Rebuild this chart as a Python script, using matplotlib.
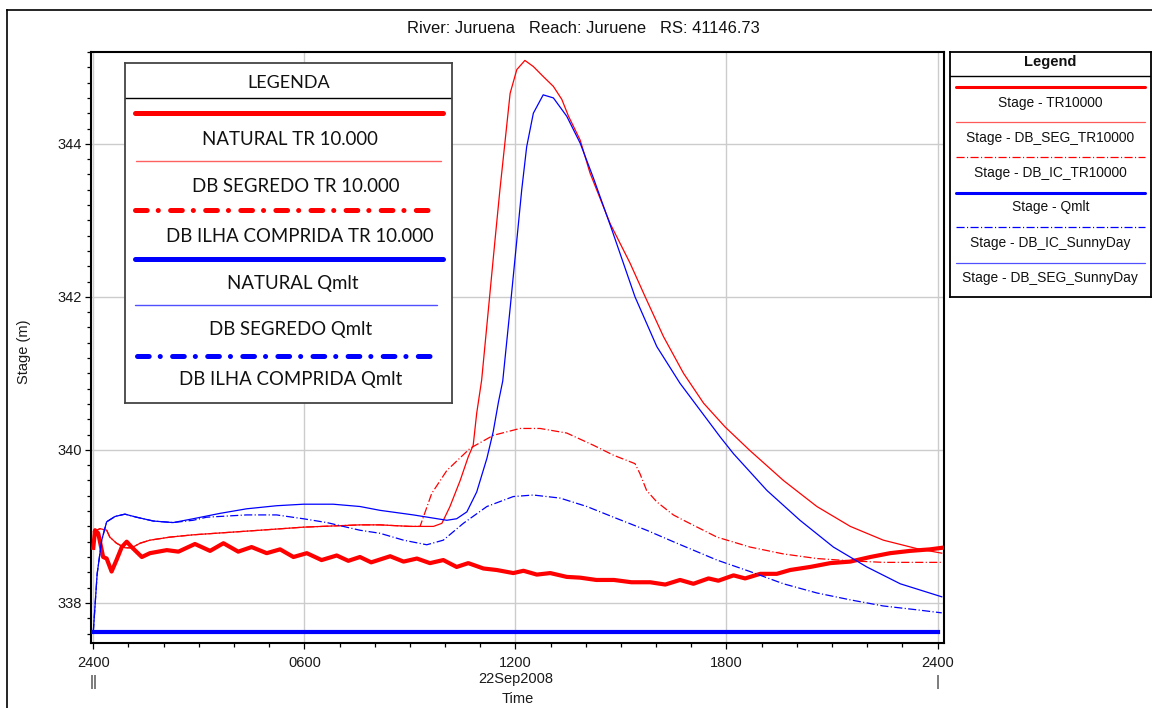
import matplotlib
matplotlib.use('Agg')
import matplotlib.pyplot as plt
from matplotlib.ticker import MultipleLocator, FixedLocator, FixedFormatter
from matplotlib.lines import Line2D

# ---------------- data (hours since 2400 of 21Sep2008, stage in m) ----------------
tr_nat_t = [0, 0.05, 0.14, 0.28, 0.38, 0.52, 0.66, 0.81, 0.95, 1.09, 1.38, 1.61, 2.09, 2.42, 2.89,
            3.32, 3.70, 4.12, 4.50, 4.93, 5.31, 5.69, 6.07, 6.49, 6.92, 7.25, 7.58, 7.9, 8.44, 8.82,
            9.2, 9.57, 9.95, 10.33, 10.66, 11.09, 11.47, 11.94, 12.23, 12.61, 12.99, 13.46, 13.84,
            14.3, 14.8, 15.3, 15.83, 16.26, 16.68, 17.06, 17.49, 17.77, 18.2, 18.53, 18.96, 19.43,
            19.81, 20.38, 20.95, 21.52, 22.09, 22.65, 23.22, 23.79, 24.12]
tr_nat_v = [338.72, 338.95, 338.91, 338.60, 338.58, 338.41, 338.56, 338.73, 338.80, 338.73, 338.60,
            338.65, 338.69, 338.67, 338.77, 338.68, 338.78, 338.67, 338.73, 338.65, 338.70, 338.60,
            338.65, 338.56, 338.62, 338.55, 338.60, 338.53, 338.61, 338.54, 338.58, 338.52, 338.56,
            338.47, 338.52, 338.45, 338.43, 338.39, 338.42, 338.37, 338.39, 338.34, 338.33, 338.30,
            338.30, 338.27, 338.27, 338.24, 338.30, 338.25, 338.32, 338.29, 338.36, 338.32, 338.38,
            338.38, 338.43, 338.47, 338.52, 338.54, 338.60, 338.65, 338.68, 338.70, 338.72]

seg_tr_t = [0, 0.19, 0.38, 0.47, 0.66, 0.90, 1.09, 1.33, 1.61, 2.18, 2.84, 3.79, 4.74, 5.97, 7.58,
            8.15, 9.0, 9.67, 9.91, 10.14, 10.43, 10.66, 10.8, 10.9, 11.04, 11.42, 11.56, 11.71, 11.85,
            12.04, 12.27, 12.51, 12.79, 13.08, 13.32, 13.51, 13.84, 14.12, 14.69, 15.26, 15.69, 16.21,
            16.78, 17.35, 17.96, 18.67, 19.62, 20.57, 21.52, 22.46, 23.41, 24.12]
seg_tr_v = [338.93, 338.97, 338.95, 338.86, 338.78, 338.72, 338.72, 338.78, 338.82, 338.86, 338.89,
            338.92, 338.95, 338.99, 339.02, 339.02, 339.00, 339.00, 339.04, 339.26, 339.60, 339.91,
            340.06, 340.48, 340.91, 342.74, 343.40, 344.05, 344.66, 344.97, 345.09, 345.01, 344.88,
            344.75, 344.58, 344.36, 344.05, 343.62, 342.96, 342.44, 342.00, 341.48, 341.00, 340.61,
            340.30, 339.99, 339.60, 339.26, 339.00, 338.82, 338.71, 338.65]

ic_tr_t = [0, 0.19, 0.38, 0.47, 0.66, 0.90, 1.09, 1.33, 1.61, 2.18, 2.84, 3.79, 4.74, 5.97, 7.58,
           8.15, 9.0, 9.29, 9.62, 10.05, 10.71, 11.37, 12.13, 12.70, 13.46, 14.22, 14.79, 15.4, 15.54,
           15.73, 16.02, 16.49, 16.78, 17.73, 18.67, 19.62, 20.57, 21.52, 22.46, 24.12]
ic_tr_v = [338.93, 338.97, 338.95, 338.86, 338.78, 338.72, 338.72, 338.78, 338.82, 338.86, 338.89,
           338.92, 338.95, 338.99, 339.02, 339.02, 339.00, 339.00, 339.43, 339.73, 340.02, 340.19,
           340.28, 340.28, 340.22, 340.06, 339.93, 339.82, 339.69, 339.47, 339.32, 339.15, 339.08,
           338.86, 338.73, 338.64, 338.58, 338.55, 338.53, 338.53]

qmlt_t = [0, 24.0]
qmlt_v = [337.62, 337.62]

ic_sun_t = [0, 0.11, 0.24, 0.38, 0.62, 0.9, 1.23, 1.71, 2.27, 2.84, 3.22, 4.36, 5.21, 5.97, 6.64,
            7.2, 7.58, 8.15, 8.82, 9.48, 9.95, 10.52, 11.19, 11.94, 12.51, 13.27, 14.03, 14.79, 15.73,
            16.59, 17.73, 18.67, 19.62, 20.57, 21.52, 22.46, 23.41, 24.12]
ic_sun_v = [337.62, 338.38, 338.82, 339.06, 339.13, 339.16, 339.12, 339.07, 339.05, 339.08, 339.12,
            339.15, 339.15, 339.10, 339.05, 338.99, 338.95, 338.91, 338.82, 338.76, 338.82, 339.04,
            339.26, 339.39, 339.41, 339.37, 339.26, 339.12, 338.95, 338.78, 338.56, 338.41, 338.25,
            338.13, 338.04, 337.96, 337.91, 337.87]

seg_sun_t = [0, 0.11, 0.24, 0.38, 0.62, 0.9, 1.23, 1.71, 2.27, 2.84, 3.6, 4.36, 5.21, 5.97, 6.82,
             7.58, 8.15, 9.1, 10.05, 10.33, 10.62, 10.9, 11.19, 11.37, 11.52, 11.64, 11.85, 12.04,
             12.18, 12.32, 12.51, 12.79, 13.08, 13.46, 13.84, 14.22, 14.74, 15.4, 16.02, 16.68, 17.25,
             17.82, 18.2, 19.15, 20.09, 21.04, 21.99, 22.94, 24.12]
seg_sun_v = [337.62, 338.38, 338.82, 339.06, 339.13, 339.16, 339.12, 339.07, 339.05, 339.10, 339.17,
             339.23, 339.27, 339.29, 339.29, 339.26, 339.21, 339.15, 339.08, 339.10, 339.19, 339.45,
             339.89, 340.24, 340.63, 340.90, 341.85, 342.74, 343.40, 343.96, 344.40, 344.64, 344.60,
             344.36, 344.01, 343.55, 342.88, 342.00, 341.35, 340.87, 340.52, 340.17, 339.95, 339.47,
             339.08, 338.73, 338.47, 338.25, 338.08]

x_ticks = [0, 6, 12, 18, 24]
x_tick_labels = ['2400', '0600', '1200\n22Sep2008', '1800', '2400']
y_ticks = [338, 340, 342, 344]
y_tick_labels = ['338', '340', '342', '344']

title = 'River: Juruena   Reach: Juruene   RS: 41146.73'
x_label = 'Time'
y_label = 'Stage (m)'

left_legend_title = 'LEGENDA'
left_legend_labels = ['NATURAL TR 10.000', 'DB SEGREDO TR 10.000', 'DB ILHA COMPRIDA TR 10.000',
                      'NATURAL Qmlt', 'DB SEGREDO Qmlt', 'DB ILHA COMPRIDA Qmlt']
right_legend_title = 'Legend'
right_legend_labels = ['Stage - TR10000', 'Stage - DB_SEG_TR10000', 'Stage - DB_IC_TR10000',
                       'Stage - Qmlt', 'Stage - DB_IC_SunnyDay', 'Stage - DB_SEG_SunnyDay']

# ---------------- styling ----------------
W, H, DPI = 1152, 708, 100
SANS = ['Liberation Sans', 'DejaVu Sans']
CAL = ['Lato', 'DejaVu Sans']
RED, BLUE = '#ff0000', '#0000ff'
DD_THIN = (0, (6.5, 1.9, 0.9, 1.9))
TXT = '#1a1a1a'

plt.rcParams['font.family'] = SANS

fig = plt.figure(figsize=(W / DPI, H / DPI), dpi=DPI, facecolor='white')


def fx(px):
    return px / W


def fy(py):
    return 1 - py / H


AX_L, AX_R, AX_T, AX_B = 91, 943.5, 52, 642.7
ax = fig.add_axes([fx(AX_L), fy(AX_B), fx(AX_R - AX_L), (AX_B - AX_T) / H])
ax.set_xlim(-0.065, 24.17)
ax.set_ylim(337.48, 345.20)

# grid
ax.grid(True, which='major', color='#cccccc', linewidth=1.0, zorder=0)
ax.set_axisbelow(True)

# series
ax.plot(tr_nat_t, tr_nat_v, color=RED, lw=3.0, solid_joinstyle='round', zorder=3)
ax.plot(qmlt_t, qmlt_v, color=BLUE, lw=3.0, zorder=3)
ax.plot(seg_tr_t, seg_tr_v, color=RED, lw=0.9, zorder=4)
ax.plot(ic_tr_t, ic_tr_v, color=RED, lw=0.9, linestyle=DD_THIN, zorder=4)
ax.plot(ic_sun_t, ic_sun_v, color=BLUE, lw=0.9, linestyle=DD_THIN, zorder=4)
ax.plot(seg_sun_t, seg_sun_v, color=BLUE, lw=0.9, zorder=4)

# ticks
ax.xaxis.set_major_locator(FixedLocator(x_ticks))
ax.xaxis.set_major_formatter(FixedFormatter(x_tick_labels))
ax.xaxis.set_minor_locator(MultipleLocator(1))
ax.yaxis.set_major_locator(FixedLocator(y_ticks))
ax.yaxis.set_major_formatter(FixedFormatter(y_tick_labels))
ax.yaxis.set_minor_locator(MultipleLocator(0.2))
ax.tick_params(which='major', direction='out', length=4.5, width=0.9, color='black',
               labelsize=10.5, labelcolor=TXT)
ax.tick_params(which='minor', direction='out', length=2.6, width=0.9, color='black')
ax.tick_params(axis='y', which='major', pad=1.8)
ax.tick_params(axis='x', which='major', pad=5.0)
for lbl in ax.get_xticklabels():
    lbl.set_linespacing(1.2)
for s in ax.spines.values():
    s.set_linewidth(1.5)
    s.set_color('black')

ax.set_xlabel(x_label, fontsize=10.5, labelpad=4.5, color=TXT)
ax.set_ylabel(y_label, fontsize=10.5, color=TXT)
ax.yaxis.set_label_coords((31 - AX_L) / (AX_R - AX_L), 0.5 - 4.5 / (AX_B - AX_T))

# day separators under the end ticks
ax.text(0, -0.054, '||', transform=ax.get_xaxis_transform(), ha='center', va='top',
        fontsize=11, color='#333333')
ax.text(24, -0.054, '|', transform=ax.get_xaxis_transform(), ha='center', va='top',
        fontsize=11, color='#333333')

# title
fig.text(fx(583), fy(28.3), title, ha='center', va='center', fontsize=11.9, color='#111111')

# outer frame (left and top edge)
fig.add_artist(Line2D([fx(7), fx(7)], [fy(10), 0], color='black', lw=1.2))
fig.add_artist(Line2D([fx(7), 1], [fy(10), fy(10)], color='black', lw=1.2))


def box(x0, y0, x1, y1, edge, lw):
    b = fig.add_axes([fx(x0), fy(y1), fx(x1 - x0), (y1 - y0) / H])
    b.set_xlim(0, x1 - x0)
    b.set_ylim(y1 - y0, 0)
    b.set_xticks([])
    b.set_yticks([])
    b.set_facecolor('white')
    for s in b.spines.values():
        s.set_linewidth(lw)
        s.set_color(edge)
    b.set_zorder(10)
    return b


# ---- left "LEGENDA" panel ----
lb = box(125, 63.3, 451.7, 403.3, '#444444', 1.3)
lb.text(163.3, 20, left_legend_title, ha='center', va='center', fontsize=13, family=CAL,
        color='#111111')
lb.plot([0, 326.7], [35, 35], color='black', lw=1.0)
DD_BIG = (0, (2.34, 2.2, 0.02, 2.46))
left_styles = [
    dict(color=RED, lw=3.6, ls='-', x=(10, 317.7)),
    dict(color='#ff6060', lw=1.0, ls='-', x=(11, 315.7)),
    dict(color=RED, lw=3.6, ls=DD_BIG, x=(10, 309)),
    dict(color=BLUE, lw=3.6, ls='-', x=(10, 318)),
    dict(color='#5050ff', lw=1.0, ls='-', x=(10, 311.7)),
    dict(color=BLUE, lw=3.6, ls=DD_BIG, x=(11.7, 311.7)),
]
left_line_y = [49.4, 97.4, 146.7, 195.7, 241.7, 292.4]
left_text_y = [76, 123.4, 172.7, 220.7, 265.7, 316]
left_text_x = [165.3, 171, 175, 167.7, 165.7, 165.7]
for st, ly, tx, ty, lab in zip(left_styles, left_line_y, left_text_x, left_text_y, left_legend_labels):
    lb.plot(st['x'], [ly, ly], color=st['color'], lw=st['lw'], linestyle=st['ls'],
            solid_capstyle='round', dash_capstyle='round')
    lb.text(tx, ty, lab, ha='center', va='center', fontsize=13.4, family=CAL, color='#111111')

# ---- right "Legend" panel ----
rb = box(950, 51.7, 1150.7, 296.7, 'black', 1.3)
rb.text(100.3, 10, right_legend_title, ha='center', va='center', fontsize=10.5,
        fontweight='bold', color='#111111')
rb.plot([0, 200.7], [24.3, 24.3], color='black', lw=1.0)
right_styles = [
    dict(color=RED, lw=2.2, ls='-'),
    dict(color='#ff5a5a', lw=0.9, ls='-'),
    dict(color=RED, lw=0.9, ls=DD_THIN),
    dict(color=BLUE, lw=2.2, ls='-'),
    dict(color=BLUE, lw=0.9, ls=DD_THIN),
    dict(color='#5050ff', lw=0.9, ls='-'),
]
right_line_y = [35.6, 70, 105, 141, 175.6, 211]
right_text_y = [51, 86, 121, 155.6, 191.6, 226.6]
for st, ly, ty, lab in zip(right_styles, right_line_y, right_text_y, right_legend_labels):
    rb.plot([6, 195], [ly, ly], color=st['color'], lw=st['lw'], linestyle=st['ls'],
            solid_capstyle='round')
    rb.text(100.3, ty, lab, ha='center', va='center', fontsize=9.9, color='#111111')

fig.savefig('out.png', dpi=DPI, facecolor='white')
